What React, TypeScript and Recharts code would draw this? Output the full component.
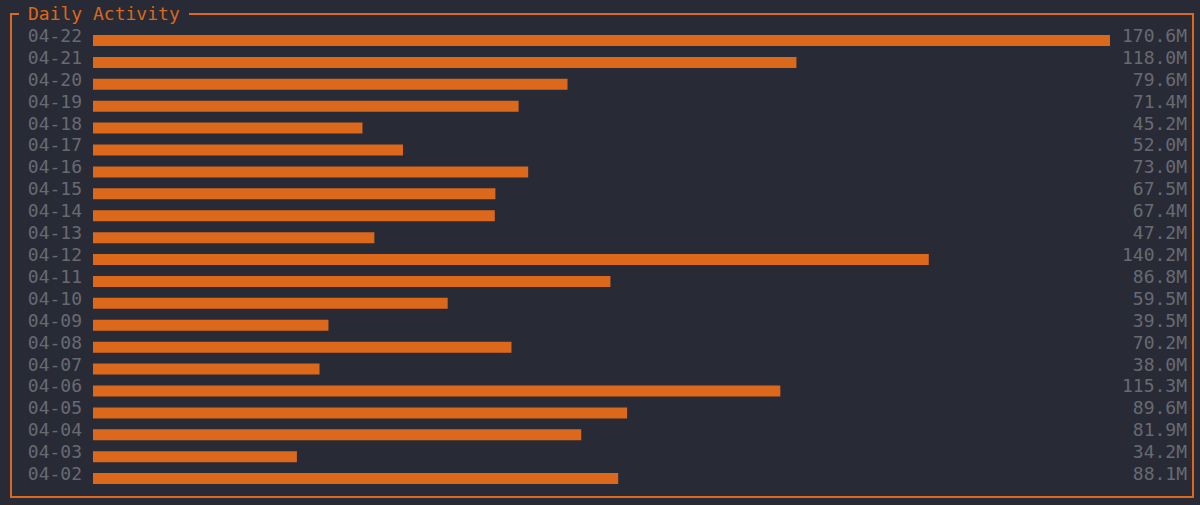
import React from 'react';
import { BarChart, Bar, XAxis, YAxis } from 'recharts';

const days = [
  '04-22', '04-21', '04-20', '04-19', '04-18', '04-17', '04-16', '04-15', '04-14', '04-13', '04-12',
  '04-11', '04-10', '04-09', '04-08', '04-07', '04-06', '04-05', '04-04', '04-03', '04-02',
];

// millions
const activity = [
  170.6, 118.0, 79.6, 71.4, 45.2, 52.0, 73.0, 67.5, 67.4, 47.2, 140.2,
  86.8, 59.5, 39.5, 70.2, 38.0, 115.3, 89.6, 81.9, 34.2, 88.1,
];

const valueLabels = activity.map((v) => v.toFixed(1) + 'M');

const BG = '#282a36';
const ORANGE = '#dc681b';
const GRAY = '#686a72';
const FONT = '"DejaVu Sans Mono", monospace';

const data = days.map((d, i) => ({ day: d, value: activity[i], label: valueLabels[i] }));

const LeftTick = (props: any) => (
  <text x={props.x} y={props.y} dy={1} textAnchor="end" fill={GRAY} fontSize={18} fontFamily={FONT}>
    {props.payload.value}
  </text>
);

const RightTick = (props: any) => (
  <text x={props.x + 77} y={props.y} dy={1} textAnchor="end" fill={GRAY} fontSize={18} fontFamily={FONT}>
    {props.payload.value}
  </text>
);

const App: React.FC = () => {
  return (
    <div style={{ position: 'absolute', left: 0, top: 0, width: 1200, height: 505, background: BG, fontFamily: FONT }}>
      <div
        style={{
          position: 'absolute', left: 10, top: 13, width: 1180, height: 481,
          border: `2px solid ${ORANGE}`,
        }}
      />
      <div
        style={{
          position: 'absolute', left: 19, top: 3, height: 22, lineHeight: '22px',
          padding: '0 9px', background: BG, color: ORANGE, fontSize: 18,
        }}
      >
        Daily Activity
      </div>
      <div style={{ position: 'absolute', left: 0, top: 0 }}>
        <BarChart
          width={1200}
          height={505}
          data={data}
          layout="vertical"
          margin={{ top: 30, right: 13, bottom: 15, left: 0 }}
        >
          <XAxis type="number" domain={[0, 170.6]} hide />
          <YAxis
            yAxisId="left"
            type="category"
            dataKey="day"
            width={93}
            axisLine={false}
            tickLine={false}
            tickSize={0}
            tickMargin={11}
            interval={0}
            tick={<LeftTick />}
          />
          <YAxis
            yAxisId="right"
            orientation="right"
            type="category"
            dataKey="label"
            width={77}
            axisLine={false}
            tickLine={false}
            tickSize={0}
            tickMargin={0}
            interval={0}
            tick={<RightTick />}
          />
          <Bar yAxisId="left" dataKey="value" fill={ORANGE} barSize={11} isAnimationActive={false} />
        </BarChart>
      </div>
    </div>
  );
};

export default App;
